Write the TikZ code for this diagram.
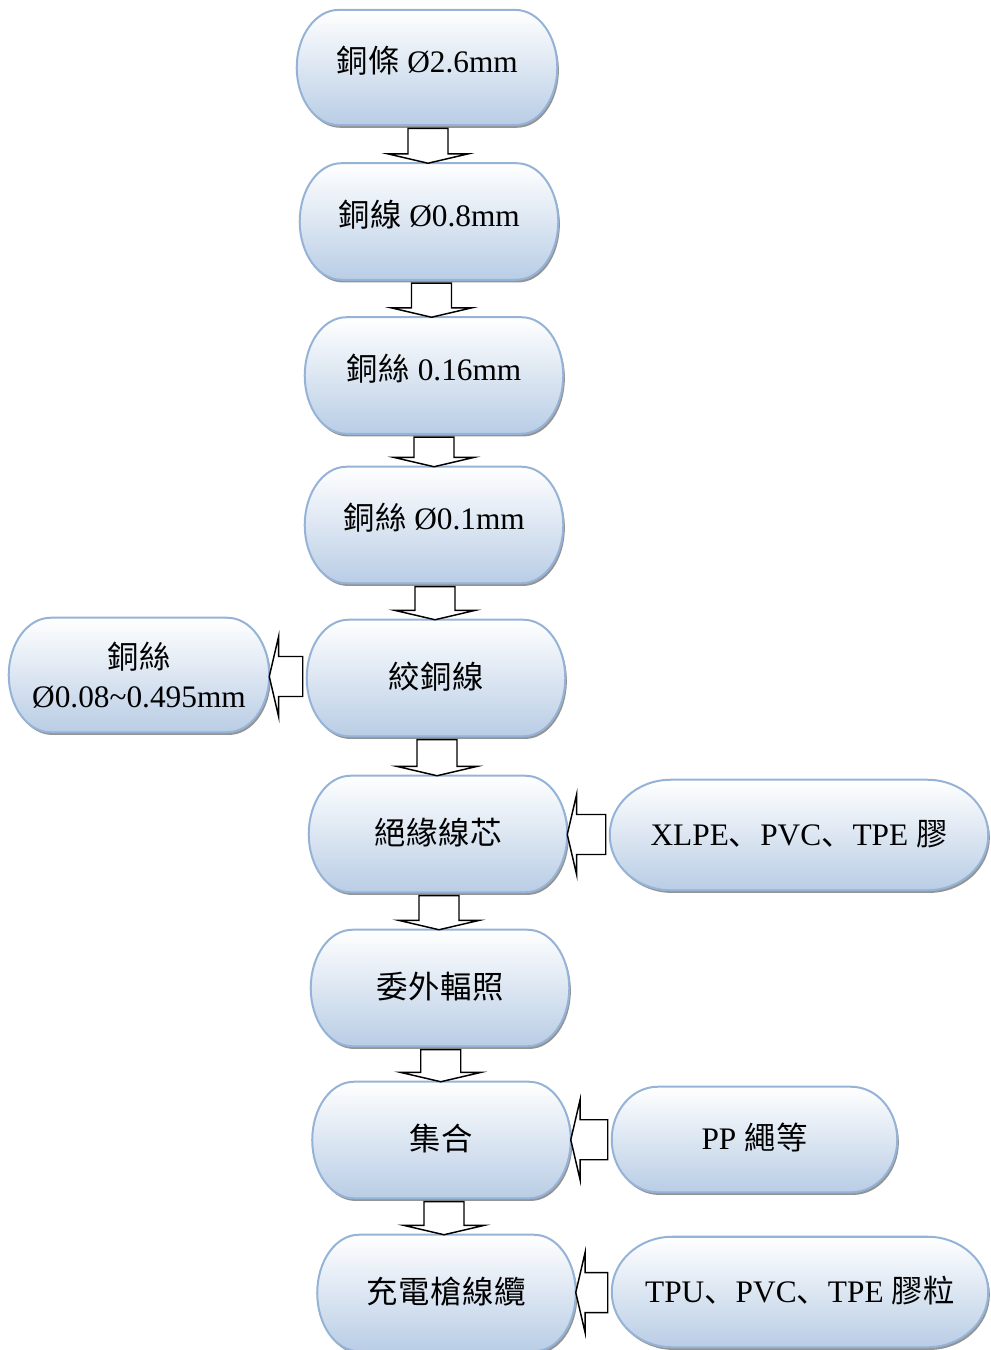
\documentclass[tikz,border=0pt]{standalone}
\usepackage{fontspec}
\setmainfont{Liberation Serif}
\newfontfamily\cjk[LetterSpace=2]{Noto Sans CJK TC}
\newfontfamily\cjkp{Noto Sans CJK SC}
\usetikzlibrary{calc,shadows,backgrounds}
\definecolor{boxbot}{HTML}{B9CDE5}
\definecolor{boxline}{HTML}{95B3D7}
\tikzset{
  box/.style={inner sep=0pt, font=\fontsize{23.5}{29}\selectfont, text height=18pt, text depth=3pt},
  mainbox/.style={box, minimum width=193.5pt, minimum height=87pt},
  raised/.style={text height=18pt, text depth=11pt},
  pill/.style={draw=boxline, line width=1.5pt, top color=white, bottom color=boxbot,
    drop shadow={shadow xshift=1.2pt, shadow yshift=-2pt, fill=black!60, opacity=0.7}},
  barrow/.style={draw=black, fill=white, line width=1.1pt, line join=miter}
}
\newcommand\darr[2]{\draw[barrow] let \p1=(#1.south), \p2=(#2.north), \n1={(\x1+\x2)/2} in
  (\n1-15pt,\y1-2.5pt) -- (\n1-15pt,\y2+7pt) -- (\n1-30pt,\y2+7pt) -- (\n1,\y2) --
  (\n1+30pt,\y2+7pt) -- (\n1+15pt,\y2+7pt) -- (\n1+15pt,\y1-2.5pt) -- cycle;}
\newcommand\larr[2]{\draw[barrow] let \p1=(#2.east), \p2=(#1.west), \n1={(\y1+\y2)/2} in
  (\x2-3pt,\n1+15pt) -- (\x1+7pt,\n1+15pt) -- (\x1+7pt,\n1+30pt) -- (\x1,\n1) --
  (\x1+7pt,\n1-30pt) -- (\x1+7pt,\n1-15pt) -- (\x2-3pt,\n1-15pt) -- cycle;}
\begin{document}
\begin{tikzpicture}[x=0.75pt,y=-0.75pt]
\useasboundingbox (0,0) rectangle (990,1350);
\node[mainbox, raised, minimum width=195pt, minimum height=86pt] (b1) at (427,67.5) {{\cjk 銅條} Ø2.6mm};
\node[mainbox, raised] (b2) at (429,221.5) {{\cjk 銅線} Ø0.8mm};
\node[mainbox, raised] (b3) at (434,375.5) {{\cjk 銅絲} 0.16mm};
\node[mainbox, raised] (b4) at (434,525) {{\cjk 銅絲} Ø0.1mm};
\node[mainbox] (b5) at (436,678) {{\cjk 絞銅線}};
\node[inner sep=0pt, font=\fontsize{23.5}{29}\selectfont, align=center, minimum width=195pt, minimum height=85.5pt] (L) at (139,675) {{\cjk 銅絲}\\Ø0.08\textasciitilde0.495mm};
\node[mainbox] (b6) at (438,834) {{\cjk 絕緣線芯}};
\node[box, minimum width=283.5pt, minimum height=82.5pt] (X) at (799,835) {XLPE{\cjkp 、}PVC{\cjkp 、}TPE {\cjk 膠}};
\node[mainbox] (b7) at (440,988) {{\cjk 委外輻照}};
\node[mainbox] (b8) at (441.5,1140) {{\cjk 集合}};
\node[box, minimum width=213.75pt, minimum height=78.75pt] (PP) at (754.5,1139.5) {PP {\cjk 繩等}};
\node[mainbox] (b9) at (446.5,1293) {{\cjk 充電槍線纜}};
\node[box, minimum width=282pt, minimum height=82.5pt] (T) at (800,1292) {TPU{\cjkp 、}PVC{\cjkp 、}TPE {\cjk 膠粒}};
\begin{scope}[on background layer]
\foreach \nd in {b1,b2,b3,b4,b5,b6,b7,b8,b9,L,X,PP,T}{
  \path[pill] let \p1=(\nd.south west), \p2=(\nd.north east),
    \n1={0.161*(\x2-\x1)}, \n2={(\y2-\y1)/2} in
    (\x1+\n1,\y2) -- (\x2-\n1,\y2)
    arc[start angle=90, end angle=-90, x radius=\n1, y radius=\n2]
    -- (\x1+\n1,\y1)
    arc[start angle=270, end angle=90, x radius=\n1, y radius=\n2] -- cycle;
}
\end{scope}
\darr{b1}{b2}
\darr{b2}{b3}
\darr{b3}{b4}
\darr{b4}{b5}
\darr{b5}{b6}
\darr{b6}{b7}
\darr{b7}{b8}
\darr{b8}{b9}
\larr{b5}{L}
\larr{X}{b6}
\larr{PP}{b8}
\larr{T}{b9}
\end{tikzpicture}
\end{document}
